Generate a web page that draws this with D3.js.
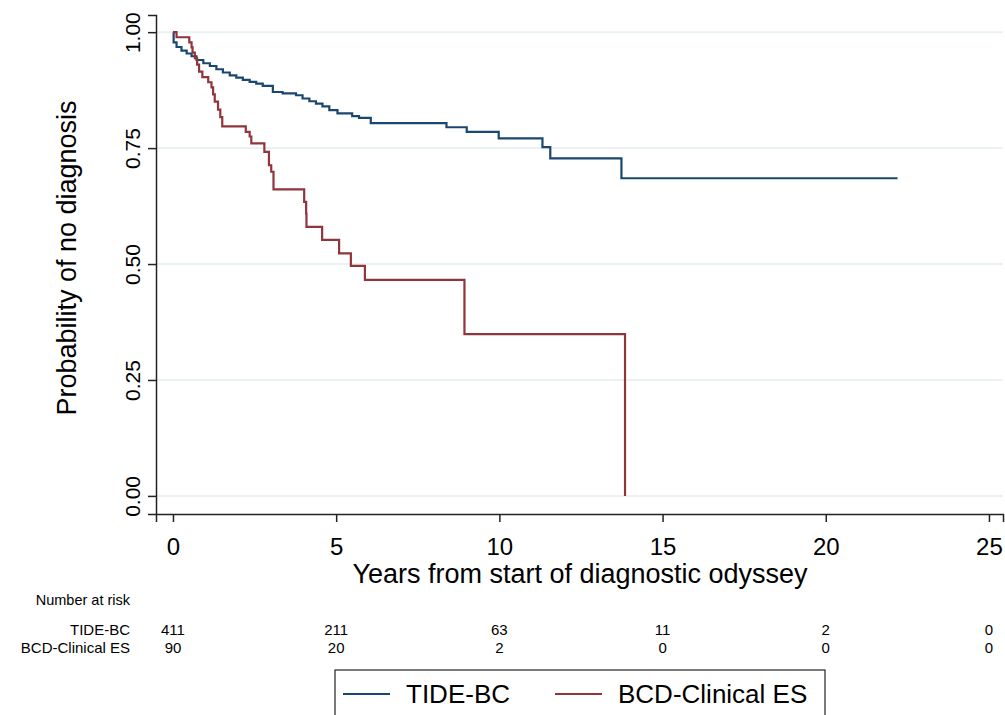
<!DOCTYPE html>
<html>
<head>
<meta charset="utf-8">
<script src="https://cdn.jsdelivr.net/npm/d3@7/dist/d3.min.js"></script>
<style>
  body { margin: 0; background: #fff; }
  svg { display: block; font-family: "Liberation Sans", Arial, sans-serif; }
</style>
</head>
<body>
<div id="chart"></div>
<script>
// Kaplan-Meier steps (years, survival).
var tideTimes = [0, 0.02, 0.11, 0.26, 0.42, 0.57, 0.72, 0.93, 1.13, 1.33, 1.53, 1.74,
  1.94, 2.14, 2.35, 2.55, 2.75, 3.06, 3.36, 3.77, 3.97, 4.18, 4.38, 4.58, 4.79,
  5.04, 5.49, 5.70, 6.06, 8.38, 9.0, 9.98, 11.32, 11.56, 13.74, 22.2];
var tideSurv = [1.0, 0.978, 0.968, 0.960, 0.954, 0.948, 0.940, 0.933, 0.927, 0.920, 0.913, 0.907,
  0.902, 0.897, 0.893, 0.889, 0.884, 0.871, 0.868, 0.864, 0.857, 0.851, 0.846, 0.840, 0.832,
  0.825, 0.819, 0.815, 0.804, 0.795, 0.785, 0.771, 0.752, 0.728, 0.685, 0.685];

var bcdTimes = [0, 0.11, 0.50, 0.57, 0.60, 0.67, 0.74, 0.80, 0.90, 1.08, 1.18, 1.23,
  1.28, 1.38, 1.45, 1.51, 2.23, 2.35, 2.40, 2.80, 2.94, 3.01, 3.08, 4.02, 4.08,
  4.09, 4.57, 5.09, 5.45, 5.88, 8.93, 13.85];
var bcdSurv = [1.0, 0.989, 0.978, 0.967, 0.956, 0.944, 0.930, 0.915, 0.903, 0.892, 0.881, 0.866,
  0.850, 0.833, 0.817, 0.797, 0.785, 0.775, 0.760, 0.742, 0.713, 0.699, 0.661, 0.634, 0.609,
  0.580, 0.552, 0.523, 0.496, 0.466, 0.349, 0.0];

var xTicks = [0, 5, 10, 15, 20, 25];
var yTicks = [0, 0.25, 0.5, 0.75, 1];
var riskTide = [411, 211, 63, 11, 2, 0];
var riskBcd = [90, 20, 2, 0, 0, 0];
var seriesNames = ['TIDE-BC', 'BCD-Clinical ES'];

var width = 1005, height = 715;
var blue = '#1a476f', red = '#90353b', grid = '#eaf2f3', axisCol = '#222';

var svg = d3.select('#chart').append('svg')
  .attr('width', width)
  .attr('height', height);

var x = d3.scaleLinear().domain([-0.52, 25.43]).range([156, 1003]);
var y = d3.scaleLinear().domain([-0.039, 1.037]).range([514, 15]);

// gridlines
svg.append('g').selectAll('line').data(yTicks).enter()
  .append('line')
    .attr('x1', 157).attr('x2', 1003)
    .attr('y1', function(d) { return y(d); })
    .attr('y2', function(d) { return y(d); })
    .attr('stroke', grid).attr('stroke-width', 2);

// y axis
var yAxis = svg.append('g')
  .attr('transform', 'translate(156,0)')
  .call(d3.axisLeft(y).tickValues(yTicks).tickFormat(d3.format('.2f'))
    .tickSizeOuter(0).tickSize(8).tickPadding(0));
yAxis.select('.domain').attr('stroke', axisCol).attr('stroke-width', 1.5);
yAxis.selectAll('.tick line').attr('stroke', axisCol).attr('stroke-width', 1.5);
yAxis.selectAll('.tick text')
  .attr('transform', 'rotate(-90)')
  .attr('x', 0).attr('y', -16).attr('dy', 0)
  .attr('text-anchor', 'middle')
  .style('font-size', '21px')
  .attr('fill', '#000');

// x axis
var xAxis = svg.append('g')
  .attr('transform', 'translate(0,514)')
  .call(d3.axisBottom(x).tickValues(xTicks).tickFormat(d3.format('d'))
    .tickSizeOuter(0).tickSize(8));
xAxis.select('.domain').attr('stroke', axisCol).attr('stroke-width', 1.5);
xAxis.selectAll('.tick line').attr('stroke', axisCol).attr('stroke-width', 1.5);
xAxis.selectAll('.tick text')
  .attr('y', 41).attr('dy', 0)
  .style('font-size', '24px')
  .attr('fill', '#000');

// axis titles
svg.append('text')
  .attr('transform', 'translate(76,258) rotate(-90)')
  .attr('text-anchor', 'middle')
  .style('font-size', '27px')
  .text('Probability of no diagnosis');

svg.append('text')
  .attr('x', 580).attr('y', 583)
  .attr('text-anchor', 'middle')
  .style('font-size', '27px')
  .text('Years from start of diagnostic odyssey');

// curves
var line = d3.line()
  .x(function(d) { return x(d[0]); })
  .y(function(d) { return y(d[1]); })
  .curve(d3.curveStepAfter);

var curves = [
  { name: seriesNames[0], color: blue, pts: d3.zip(tideTimes, tideSurv) },
  { name: seriesNames[1], color: red, pts: d3.zip(bcdTimes, bcdSurv) }
];

svg.append('g').selectAll('path').data(curves).enter()
  .append('path')
    .attr('d', function(d) { return line(d.pts); })
    .attr('fill', 'none')
    .attr('stroke', function(d) { return d.color; })
    .attr('stroke-width', 2.2);

// number at risk
var risk = svg.append('g').style('font-size', '15px');

risk.append('text')
  .attr('x', 130).attr('y', 605)
  .attr('text-anchor', 'end')
  .style('font-size', '14.5px')
  .text('Number at risk');

[riskTide, riskBcd].forEach(function(row, i) {
  var ry = 635 + i * 18;
  risk.append('text')
    .attr('x', 130).attr('y', ry)
    .attr('text-anchor', 'end')
    .text(seriesNames[i]);
  risk.selectAll('.r' + i).data(row).enter()
    .append('text')
      .attr('class', 'r' + i)
      .attr('x', function(d, j) { return x(xTicks[j]); })
      .attr('y', ry)
      .attr('text-anchor', 'middle')
      .text(function(d) { return d; });
});

// legend
var legend = svg.append('g');
legend.append('rect')
  .attr('x', 335).attr('y', 670)
  .attr('width', 490).attr('height', 60)
  .attr('fill', '#fff')
  .attr('stroke', axisCol).attr('stroke-width', 1.2);

var legX = [343, 555];
curves.forEach(function(c, i) {
  legend.append('line')
    .attr('x1', legX[i]).attr('x2', legX[i] + 47)
    .attr('y1', 694).attr('y2', 694)
    .attr('stroke', c.color).attr('stroke-width', 2.2);
  legend.append('text')
    .attr('x', legX[i] + 63).attr('y', 703)
    .style('font-size', '26px')
    .text(c.name);
});
</script>
</body>
</html>
